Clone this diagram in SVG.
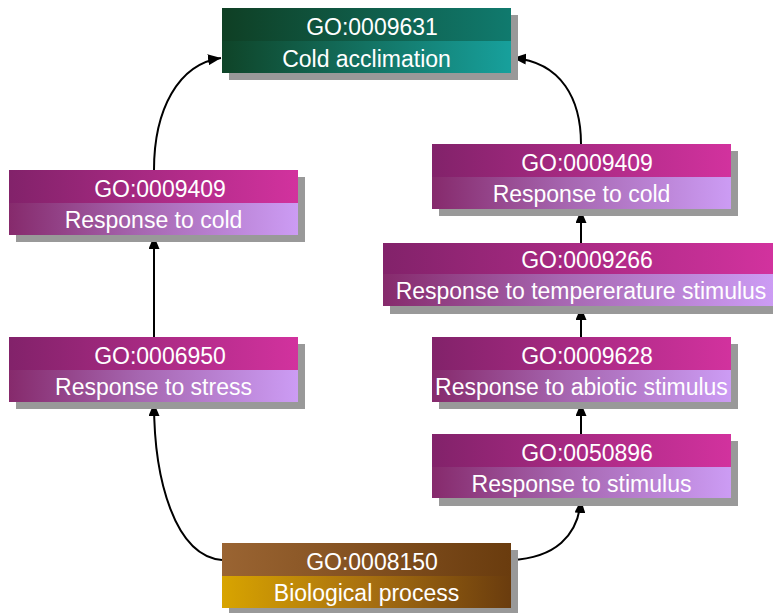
<svg xmlns="http://www.w3.org/2000/svg" width="773" height="613" viewBox="0 0 773 613">
  <defs>
    <linearGradient id="magTop" x1="0" y1="0" x2="1" y2="0">
      <stop offset="0" stop-color="#82226a"/>
      <stop offset="1" stop-color="#d2329e"/>
    </linearGradient>
    <linearGradient id="magBot" x1="0" y1="0" x2="1" y2="0">
      <stop offset="0" stop-color="#862a6c"/>
      <stop offset="0.45" stop-color="#a666b0"/>
      <stop offset="1" stop-color="#cc9cf4"/>
    </linearGradient>
    <linearGradient id="grnTop" x1="0" y1="0" x2="1" y2="0">
      <stop offset="0" stop-color="#0f3f24"/>
      <stop offset="1" stop-color="#107a6e"/>
    </linearGradient>
    <linearGradient id="grnBot" x1="0" y1="0" x2="1" y2="0">
      <stop offset="0" stop-color="#0f4428"/>
      <stop offset="1" stop-color="#17a09c"/>
    </linearGradient>
    <linearGradient id="brnTop" x1="0" y1="0" x2="1" y2="0">
      <stop offset="0" stop-color="#9a6432"/>
      <stop offset="1" stop-color="#6a3c0e"/>
    </linearGradient>
    <linearGradient id="brnBot" x1="0" y1="0" x2="1" y2="0">
      <stop offset="0" stop-color="#d8a400"/>
      <stop offset="0.5" stop-color="#a87010"/>
      <stop offset="1" stop-color="#6a3c0e"/>
    </linearGradient>
    <marker id="arrow" viewBox="0 0 13 11" refX="13" refY="5.5" markerWidth="13" markerHeight="11" markerUnits="userSpaceOnUse" orient="auto">
      <path d="M0,0 L13,5.5 L0,11 Z" fill="#000"/>
    </marker>
  </defs>
  <style>
    .shadow { fill: #999999; }
    .go { font-family: "Liberation Sans", Arial, sans-serif; font-size: 23px; fill: #ffffff; text-anchor: middle; }
    .edge { fill: none; stroke: #000; stroke-width: 2; marker-end: url(#arrow); }
  </style>

  <rect width="773" height="613" fill="#ffffff"/>

  <!-- connectors -->
  <g id="edges">
    <path class="edge" d="M154,170 C154,110 178,64 221,58"/>
    <path class="edge" d="M581,144 C581,100 562,62 513,58"/>
    <path class="edge" d="M154,337 L154,236"/>
    <path class="edge" d="M222,560 C175,556 154,480 154,403"/>
    <path class="edge" d="M581,243 L581,210"/>
    <path class="edge" d="M581,337 L581,307"/>
    <path class="edge" d="M581,434 L581,403"/>
    <path class="edge" d="M511,560 C555,558 578,536 581,500"/>
  </g>

  <!-- GO:0009631 -->
  <g id="n0009631">
    <rect class="shadow" x="229" y="15" width="289" height="65"/>
    <rect x="222" y="8" width="289" height="33" fill="url(#grnTop)"/>
    <rect x="222" y="41" width="289" height="32" fill="url(#grnBot)"/>
    <text class="go" x="372" y="35">GO:0009631</text>
    <text class="go" x="366.5" y="67">Cold acclimation</text>
  </g>

  <!-- left branch -->
  <g id="n0009409a">
    <rect class="shadow" x="16" y="177" width="289" height="65"/>
    <rect x="9" y="170" width="289" height="33" fill="url(#magTop)"/>
    <rect x="9" y="203" width="289" height="32" fill="url(#magBot)"/>
    <text class="go" x="160" y="197">GO:0009409</text>
    <text class="go" x="153.5" y="228">Response to cold</text>
  </g>

  <g id="n0006950">
    <rect class="shadow" x="16" y="344" width="289" height="65"/>
    <rect x="9" y="337" width="289" height="33" fill="url(#magTop)"/>
    <rect x="9" y="370" width="289" height="32" fill="url(#magBot)"/>
    <text class="go" x="160" y="364">GO:0006950</text>
    <text class="go" x="153.5" y="395">Response to stress</text>
  </g>

  <!-- right branch -->
  <g id="n0009409b">
    <rect class="shadow" x="439" y="151" width="299" height="65"/>
    <rect x="432" y="144" width="299" height="33" fill="url(#magTop)"/>
    <rect x="432" y="177" width="299" height="32" fill="url(#magBot)"/>
    <text class="go" x="587" y="171">GO:0009409</text>
    <text class="go" x="581.5" y="202">Response to cold</text>
  </g>

  <g id="n0009266">
    <rect class="shadow" x="390" y="250" width="390" height="64"/>
    <rect x="383" y="243" width="390" height="31" fill="url(#magTop)"/>
    <rect x="383" y="274" width="390" height="32" fill="url(#magBot)"/>
    <text class="go" x="587" y="268">GO:0009266</text>
    <text class="go" x="581" y="299">Response to tempererature stimulus</text>
  </g>

  <g id="n0009628">
    <rect class="shadow" x="439" y="344" width="299" height="65"/>
    <rect x="432" y="337" width="299" height="33" fill="url(#magTop)"/>
    <rect x="432" y="370" width="299" height="32" fill="url(#magBot)"/>
    <text class="go" x="587" y="364">GO:0009628</text>
    <text class="go" x="581.5" y="395">Response to abiotic stimulus</text>
  </g>

  <g id="n0050896">
    <rect class="shadow" x="439" y="441" width="299" height="65"/>
    <rect x="432" y="434" width="299" height="33" fill="url(#magTop)"/>
    <rect x="432" y="467" width="299" height="31" fill="url(#magBot)"/>
    <text class="go" x="587" y="461">GO:0050896</text>
    <text class="go" x="581.5" y="492">Response to stimulus</text>
  </g>

  <!-- GO:0008150 -->
  <g id="n0008150">
    <rect class="shadow" x="229" y="550" width="289" height="65"/>
    <rect x="222" y="543" width="289" height="33" fill="url(#brnTop)"/>
    <rect x="222" y="576" width="289" height="32" fill="url(#brnBot)"/>
    <text class="go" x="372" y="570">GO:0008150</text>
    <text class="go" x="366.5" y="601">Biological process</text>
  </g>
</svg>
